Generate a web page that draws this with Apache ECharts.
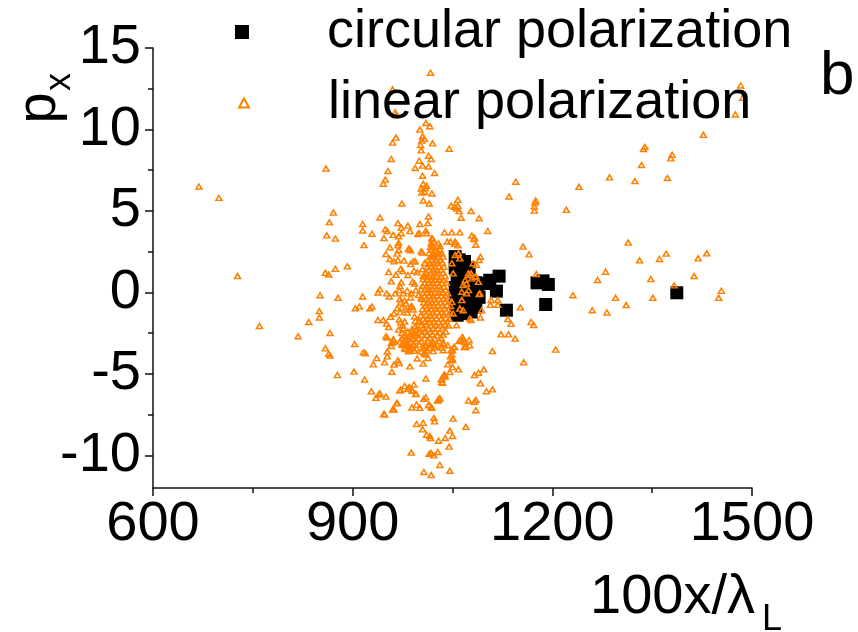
<!DOCTYPE html>
<html><head><meta charset="utf-8">
<script src="https://cdn.jsdelivr.net/npm/echarts@6/dist/echarts.min.js"></script>
<style>html,body{margin:0;padding:0;background:#fff}#c{width:858px;height:632px}</style>
</head><body><div id="c"></div>
<script>
const FONT = "'Liberation Sans', Arial, sans-serif";
const seriesNames = ['circular polarization', 'linear polarization'];
const xTicks = [600, 900, 1200, 1500];
const yTicks = [-10, -5, 0, 5, 10, 15];
const yMinorTicks = [-7.5, -2.5, 2.5, 7.5, 12.5];

const circular = [
[1054,2.2],[1060,2.0],[1068,1.9],[1054,1.5],[1063,1.4],[1075,1.5],[1057,0.9],[1068,1.1],[1075,0.9],
[1054,0.3],[1063,0.5],[1070,0.2],[1080,0.4],[1085,0.6],[1054,-0.3],[1062,-0.1],[1072,-0.4],[1083,-0.2],
[1090,-0.3],[1055,-0.9],[1063,-1.0],[1075,-0.8],[1085,-0.9],[1057,-1.4],[1066,-1.3],[1078,-1.2],[1088,0.1],
[1102,0.55],[1106,0.75],[1116,0.08],[1120,1.0],[1131,-1.09],[1177,0.59],[1186,0.71],[1194,0.49],[1190,-0.74],[1387,-0.02]
];

const linearOuter = [
[860,7.6],[669,6.5],[699,5.8],[871,4.9],[865,4.3],[915,4.2],[915,3.8],[929,3.6],[861,3.5],[874,3.3],[917,2.9],[941,4.6],[727,1.0],[892,1.6],[874,1.45],[859,1.2],[864,1.1],[851,-0.17],[878,-0.33],[915,-0.25],[938,0.0],
[904,-0.97],[910,-0.86],[926,-0.97],[929,-0.86],[850,-1.15],[850,-1.54],[834,-1.81],[760,-2.06],[938,-1.69],[818,-2.69],[866,-2.49],[903,-3.16],[859,-3.43],[864,-3.76],[866,-3.88],[916,-3.68],[919,-3.74],[936,-4.03],[931,-4.41],[877,-5.07],[902,-4.86],[918,-5.34],[928,-6.06],[935,-6.47],[939,-6.26],
[941,-6.2],[950,-6.39],[948,-7.49],[960,-7.19],[966,-6.8],[959,-4.87],[948,-4.29],[952,-3.63],[952,-3.92],[962,-4.43],[970,-4.33],[968,-4.17],[950,-2.69],[952,-2.77],[958,-3.1],[962,-2.94],[986,-4.54],[971,-6.02],[978,-5.75],[983,-5.91],[992,-5.65],[990,-6.03],[995,-6.24],[989,-7.06],[1001,-7.08],[996,-6.88],[1007,-6.53],[1010,-6.43],[1014,-6.92],[1019,-7.08],[997,-4.05],[1006,-4.37],[1010,-3.78],[1010,-5.28],[992,-2.49],[1009,-2.36],[996,-8.07],[1005,-8.4],[1011,-8.73],[1016,-8.81],[1017,-8.93],[1022,-7.7],[1023,-7.91],[988,-9.83],[1015,-9.9],[1018,-9.85],[1022,-10.0],[1028,-9.79],[1031,-10.59],[1007,-11.02],[1018,-11.21],[1046,-10.94],[1029,-9.1],[1039,-8.93],[1045,-9.46],[1046,-8.48],[1050,-8.81],[1051,-7.74],[1070,-8.25],[1028,-6.61],[1031,-6.49],[1033,-5.34],[1035,-5.54],[1037,-5.09],[1039,-5.15],[1074,-6.63],[1083,-6.71],[1085,-6.59],[1085,-7.23],[1092,-5.58],[1101,-6.06],[1110,-5.95],[1083,-5.07],[1089,-4.93],[1097,-4.72],[1043,-4.41],[1050,-4.58],[1059,-4.72],[1049,-4.13],[1049,-3.8],[1050,-3.55],[1052,-3.35],[1036,-3.55],[1034,-3.39],[1069,-3.26],[1062,-2.94],[1066,-2.87],[1075,-2.92],[1110,-3.6],[1123,-2.57],[1134,-2.57],[1144,-2.83],[1157,-4.29],
[1090,-0.1],[1108,-0.47],[1118,-0.47],[1107,-0.76],[1118,-0.76],[1152,-0.92],[1092,-1.54],[1078,-1.69],[1133,-1.64],[1138,-1.93],[1168,-1.81],[1172,-2.0],[1205,-3.51],[1231,-0.17],[1260,-1.09],[1282,-1.23],[1295,-0.33],[1311,-0.78],[1351,-0.33],[1450,-0.33],[1454,0.1],
[1483,12.7],[1486,11.95],[1475,10.92],[1427,9.67],[1337,8.8],[1339,8.93],[1378,8.23],[1380,8.44],[1334,7.82],[1286,7.06],[1324,6.83],[1373,7.02],[1240,6.48],[1145,6.79],[1135,5.89],[1175,5.64],[1174,5.52],[1173,5.27],[1173,5.02],[1221,5.07],[1078,5.0],[1090,4.55],[1103,3.77],[1079,3.49],[1083,3.36],[1082,3.28],[1085,2.93],[1314,3.06],[1156,2.81],[1165,2.34],[1371,2.38],[1432,2.4],[1361,2.05],[1419,2.09],[1331,1.97],[1280,1.27],[1268,0.76],[1348,0.82],[1413,1.0],[1383,0.43],[1176,1.13],[1090,1.99],[1092,2.19],[1081,1.79],[1086,1.68],[1085,1.0],[1078,1.17],
[1017,13.48],[960,12.46],[964,11.06],[965,10.87],[1010,10.4],[1016,10.2],[1001,9.99],[965,9.5],[960,9.19],[1005,9.58],[1008,9.42],[1004,9.32],[1020,9.15],[1002,9.05],[1003,8.72],[1045,8.82],[958,8.19],[1014,8.39],[1018,8.19],[1000,8.08],[1005,7.78],[994,7.64],[1014,7.73],[953,7.45],[1023,7.33],[1005,7.16],[949,6.92],[946,6.67],[1006,6.67],[1011,6.55],[1003,6.38],[1008,6.16],[1004,6.13],[1009,6.4],[1019,6.07],[974,5.46],[1006,5.64],[1015,5.46],[1048,5.33],[1053,5.25],[1058,5.31],[1056,5.15],[1060,4.99],[1058,5.68],[1014,4.66],[1063,4.58],[968,4.25],[983,4.1],[973,3.98],[1001,4.2],[1010,3.79],[1011,3.63],[949,3.88],[952,3.76],[947,3.33],[961,3.53],[973,3.63],[969,3.45],[986,3.76],[998,3.59],[1000,3.65],[1038,3.69],[1049,3.69],[1061,3.69],[1019,3.33],[1022,3.14],[1020,2.89],[969,3.04],[968,2.89],[969,2.6],[956,2.77],[984,2.68],[987,2.59],[1003,2.52],[1005,2.44],[1042,3.12],[1047,3.12],[1053,2.99],[1058,2.89],[1054,3.12],[1021,2.77],[1024,2.6],[950,2.36],[956,2.05],[962,1.91],[968,1.99],[977,1.95],[991,1.91],[987,1.74],[994,1.91],[997,1.23],[992,1.33],[972,1.43],[975,1.31],[965,1.08],[954,1.25],[983,1.07],[1006,1.0],[958,0.68],[973,0.62],[971,0.39],[970,0.14],[941,0.2],[990,0.65],[993,0.55],[995,0.14],[988,-0.06],[951,-0.06],[955,-0.25],[964,-0.06],[976,-0.06],[982,0.1],[971,-0.41],[978,-0.49],[980,-0.68],[972,-0.62],[987,-0.31],[999,-0.15],[1003,-0.31],[967,-0.97],[974,-0.92],[971,-1.21],[980,-1.05],[982,-1.23],[987,-0.89],[989,-0.84],[991,-1.05],[946,-1.69],[951,-1.91],[954,-2.12],[957,-1.5],[962,-1.29],[970,-1.66],[972,-1.83],[978,-1.79],[975,-2.03],[976,-2.2],[993,-1.48],[994,-1.75],[1000,-1.75],[961,-2.88],[960,-3.08],[958,-3.29],[969,-2.28],[974,-2.49],[977,-2.69],[980,-2.9],[977,-3.1],[974,-3.18],[981,-3.27],[985,-3.39],[988,-3.04],[991,-3.18],[985,-2.69],[994,-2.08],[995,-2.32],[992,-2.52],[989,-2.24],[979,-3.47],[985,-3.55],[1009,-3.31],[1007,-3.72],[1009,-3.8],[1021,-3.1],[1024,-3.31],[1036,-3.1],[1043,-3.24],[1068,-3.04],[1069,-3.35],[1048,-3.55],[1047,-3.92],[1050,-4.09],[1048,-4.17],[1013,-4.02],[1046,-4.89],[1038,-5.03],[1037,-5.15],[1034,-5.3],[1034,-5.5],[972,-5.97],[985,-5.81],[989,-6.02],[995,-6.22],[967,-6.78],[962,-7.19],[947,-7.45],[1018,-7.04],[1015,-6.9],[1030,-6.53],[1028,-6.63],[1006,-8.0],
[1013,4.25],[1020,3.27],[1018,3.02],[1017,2.79],[1029,3.02],[1031,2.85],[1027,2.34],[1019,2.3],[1022,2.22],[1029,2.44],[985,2.66],[967,2.38],
[1054,2.3],[1059,2.4],[1061,2.09],[1049,1.79],[1051,1.17],[1074,1.17],[1076,1.07],[1079,0.86],[1071,0.55],[1066,0.45],[1064,0.04],[1074,0.14],[1071,-0.06],[1091,-0.06],[1049,-0.58],[1064,-0.47],[1061,-0.99],[1066,-1.09],[1051,-1.29],[1076,-1.6],[1094,-1.09],[1089,0.65],[1084,0.96],[1069,0.76],
[1056,-2.01],[1065,-2.73],[1060,-2.98],[1076,-3.24],[1068,-3.35],[1053,-3.35],[1037,-3.14]
];

const linearCore = [
[1018,2.62],[1024,2.55],[1031,2.66],
[1015,2.41],[1021,2.36],[1027,2.45],[1034,2.38],
[1017,2.18],[1023,2.24],[1029,2.15],[1036,2.2],
[1013,1.98],[1019,2.04],[1026,1.95],[1032,2.01],
[1008,1.81],[1016,1.76],[1022,1.84],[1028,1.78],[1035,1.83],
[1012,1.58],[1018,1.63],[1024,1.55],[1030,1.61],[1037,1.57],
[1005,1.42],[1015,1.37],[1021,1.44],[1027,1.35],[1033,1.41],
[1011,1.21],[1017,1.16],[1023,1.24],[1029,1.18],[1036,1.22],
[1009,0.98],[1014,1.04],[1020,0.96],[1026,1.02],[1032,0.95],[1039,1.01],
[1006,0.82],[1012,0.77],[1018,0.84],[1024,0.78],[1030,0.81],[1036,0.76],
[1008,0.58],[1015,0.63],[1021,0.56],[1027,0.62],[1034,0.57],[1041,0.61],
[1005,0.41],[1011,0.36],[1017,0.43],[1023,0.38],[1030,0.42],[1037,0.35],
[1003,0.18],[1009,0.22],[1014,0.16],[1020,0.24],[1026,0.19],[1032,0.21],[1040,0.17],
[1006,-0.03],[1012,0.02],[1018,-0.04],[1024,0.03],[1029,-0.02],[1035,0.01],[1043,-0.05],
[1008,-0.22],[1015,-0.18],[1021,-0.24],[1027,-0.17],[1033,-0.21],[1040,-0.19],
[1004,-0.41],[1011,-0.37],[1017,-0.43],[1023,-0.38],[1030,-0.42],[1037,-0.36],[1044,-0.4],
[1007,-0.62],[1013,-0.57],[1019,-0.63],[1026,-0.58],[1032,-0.61],[1039,-0.56],
[1010,-0.81],[1016,-0.77],[1022,-0.84],[1028,-0.79],[1035,-0.82],[1042,-0.78],[1047,-0.83],
[1005,-1.02],[1012,-0.97],[1018,-1.03],[1025,-0.98],[1031,-1.01],[1038,-0.96],
[1008,-1.21],[1014,-1.17],[1021,-1.23],[1027,-1.18],[1034,-1.22],[1041,-1.19],[1046,-1.24],
[1002,-1.41],[1010,-1.37],[1017,-1.43],[1023,-1.38],[1030,-1.42],[1037,-1.36],
[1006,-1.62],[1013,-1.57],[1019,-1.63],[1026,-1.58],[1033,-1.61],[1040,-1.56],[1045,-1.63],
[999,-1.82],[1009,-1.77],[1016,-1.84],[1022,-1.78],[1029,-1.83],[1036,-1.79],
[1003,-2.01],[1011,-1.97],[1018,-2.04],[1025,-1.98],[1032,-2.02],[1039,-1.96],[1044,-2.03],
[996,-2.22],[1006,-2.17],[1014,-2.23],[1021,-2.18],[1028,-2.21],[1035,-2.16],
[983,-2.41],[990,-2.38],[1000,-2.43],[1009,-2.37],[1017,-2.42],[1024,-2.39],[1031,-2.44],[1040,-2.4],
[978,-2.62],[986,-2.57],[995,-2.63],[1004,-2.58],[1012,-2.61],[1020,-2.56],[1027,-2.63],[1036,-2.59],
[974,-2.81],[982,-2.78],[990,-2.84],[999,-2.79],[1008,-2.82],[1016,-2.77],[1023,-2.83],[1033,-2.8],
[971,-3.02],[979,-2.97],[987,-3.03],[995,-2.98],[1003,-3.01],[1013,-2.96],[1020,-3.02],[1030,-2.99],
[975,-3.21],[983,-3.18],[992,-3.23],[1000,-3.19],[1010,-3.22],[1018,-3.17],[1027,-3.2],
[978,-3.41],[988,-3.38],[996,-3.43],[1006,-3.39],[1015,-3.42],[1024,-3.37],
[984,-3.61],[993,-3.58],[1003,-3.62],[1012,-3.57],[1021,-3.6]
];

const linear = linearOuter.concat(linearCore);

const chart = echarts.init(document.getElementById('c'), null, {renderer: 'canvas'});
const axisCol = '#111';
const ORANGE = '#FF8000';
chart.setOption({
  animation: false,
  backgroundColor: '#fff',
  textStyle: {fontFamily: FONT},
  grid: {left: 153, right: 106, top: 48, bottom: 144, containLabel: false},
  legend: [
    {data: [seriesNames[0]], left: 235, top: 5, padding: 0, itemWidth: 14, itemHeight: 14,
     selectedMode: false, textStyle: {fontSize: 54, color: '#000', fontFamily: FONT, padding: [8, 0, 0, 73]}},
    {data: [seriesNames[1]], left: 238, top: 76, padding: 0, itemWidth: 10, itemHeight: 9,
     selectedMode: false, textStyle: {fontSize: 54, color: '#000', fontFamily: FONT, padding: [0, 0, 0, 74]}}
  ],
  xAxis: {
    type: 'value', min: xTicks[0], max: xTicks[xTicks.length - 1], interval: 300,
    axisLine: {show: true, onZero: false, lineStyle: {color: axisCol, width: 1.5}},
    axisTick: {show: true, length: 8, lineStyle: {color: axisCol, width: 1.5}},
    minorTick: {show: true, splitNumber: 2, length: 5, lineStyle: {color: axisCol, width: 1.5}},
    axisLabel: {fontSize: 56, color: '#000', margin: 9, fontFamily: FONT, formatter: v => String(v)},
    splitLine: {show: false}
  },
  yAxis: [{
    type: 'value', min: -12, max: 15, position: 'left',
    axisLine: {show: true, onZero: false, lineStyle: {color: axisCol, width: 1.5}},
    axisTick: {show: true, length: 8, customValues: yTicks, lineStyle: {color: axisCol, width: 1.5}},
    axisLabel: {fontSize: 56, color: '#000', margin: 12, customValues: yTicks, fontFamily: FONT, formatter: v => String(v)},
    splitLine: {show: false}
  }, {
    type: 'value', min: -12, max: 15, position: 'left',
    axisLine: {show: false, onZero: false},
    axisTick: {show: true, length: 5, customValues: yMinorTicks, lineStyle: {color: axisCol, width: 1.5}},
    axisLabel: {show: false},
    splitLine: {show: false}
  }],
  series: [
    {name: seriesNames[0], type: 'scatter', data: circular, symbol: 'rect', symbolSize: 13,
     itemStyle: {color: '#000', opacity: 1}, z: 2},
    {name: seriesNames[1], type: 'scatter', data: linear, symbol: 'triangle', symbolSize: [6, 5],
     itemStyle: {color: 'rgba(255,255,255,0)', borderColor: ORANGE, borderWidth: 1.5, opacity: 1}, z: 3}
  ],
  graphic: [
    {type: 'text', left: 820, top: 46, style: {text: 'b', font: "62px 'Liberation Sans'", fill: '#000'}},
    {type: 'text', x: 40, y: 108, rotation: Math.PI / 2,
     style: {text: 'p', font: "56px 'Liberation Sans'", fill: '#000', align: 'center', verticalAlign: 'middle'}},
    {type: 'text', x: 60, y: 82, rotation: Math.PI / 2,
     style: {text: 'x', font: "36px 'Liberation Sans'", fill: '#000', align: 'center', verticalAlign: 'middle'}},
    {type: 'text', left: 590, top: 570, style: {text: '100x/λ', font: "56px 'Liberation Sans'", fill: '#000'}},
    {type: 'text', left: 762, top: 602, style: {text: 'L', font: "36px 'Liberation Sans'", fill: '#000'}}
  ]
});
</script></body></html>
